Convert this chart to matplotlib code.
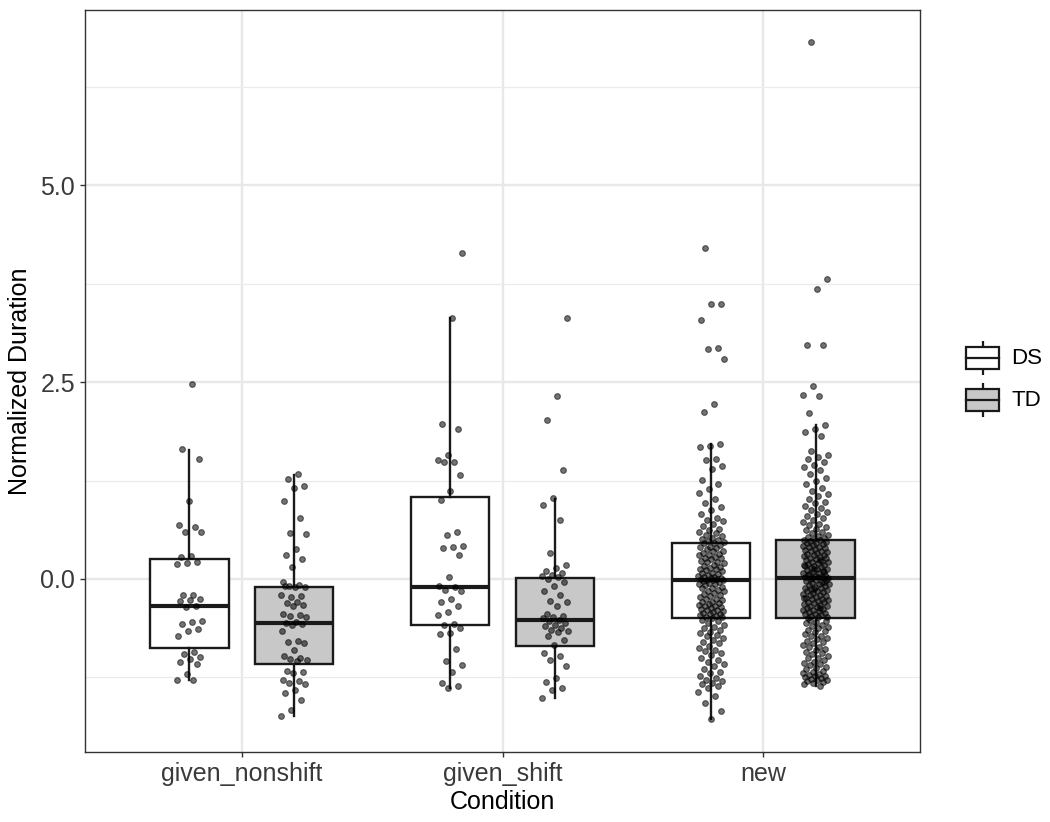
import numpy as np
import matplotlib
matplotlib.use("Agg")
import matplotlib.pyplot as plt
from matplotlib.patches import Rectangle
from matplotlib.ticker import FixedLocator

plt.rcParams['font.family'] = ['Liberation Sans', 'DejaVu Sans']

conditions = ["given_nonshift", "given_shift", "new"]
groups = ["DS", "TD"]
fills = {"DS": "#FFFFFF", "TD": "#C8C8C8"}

# box statistics: whisker low, Q1, median, Q3, whisker high
ds_whislo = [-1.28, -1.39, -1.78]
ds_q1 = [-0.88, -0.59, -0.50]
ds_med = [-0.35, -0.10, -0.02]
ds_q3 = [0.25, 1.04, 0.45]
ds_whishi = [1.64, 3.31, 1.71]

td_whislo = [-1.74, -1.51, -1.36]
td_q1 = [-1.08, -0.85, -0.50]
td_med = [-0.56, -0.52, 0.01]
td_q3 = [-0.10, 0.01, 0.49]
td_whishi = [1.32, 1.01, 1.95]

# individual observations (estimated from the jittered points)
ds_given_nonshift = [2.48, 1.65, 1.53, 0.99, 0.68, 0.66, 0.60, 0.59, 0.29, 0.28, 0.21, 0.20,
                     0.19, -0.20, -0.21, -0.25, -0.27, -0.28, -0.35, -0.36, -0.53, -0.55, -0.57,
                     -0.64, -0.66, -0.73, -0.93, -0.95, -0.99, -1.02, -1.05, -1.08, -1.21, -1.28, -1.29]
td_given_nonshift = [1.33, 1.27, 1.18, 1.15, 0.99, 0.78, 0.58, 0.57, 0.38, 0.31, 0.25, 0.15,
                     -0.04, -0.08, -0.09, -0.10, -0.10, -0.09, -0.22, -0.23, -0.21, -0.29, -0.31,
                     -0.33, -0.35, -0.45, -0.46, -0.47, -0.48, -0.55, -0.56, -0.57, -0.58, -0.66,
                     -0.79, -0.80, -0.82, -0.90, -0.98, -1.00, -1.02, -1.03, -1.04, -1.17, -1.18,
                     -1.19, -1.29, -1.30, -1.32, -1.33, -1.41, -1.45, -1.54, -1.67, -1.74]
ds_given_shift = [4.14, 3.32, 1.97, 1.91, 1.58, 1.51, 1.49, 1.48, 1.32, 1.12, 1.00, 0.60, 0.56,
                  0.42, 0.40, 0.39, 0.31, 0.03, -0.09, -0.10, -0.14, -0.15, -0.25, -0.30, -0.34,
                  -0.42, -0.46, -0.57, -0.58, -0.62, -0.69, -0.70, -0.89, -1.04, -1.10, -1.18,
                  -1.32, -1.36, -1.39]
td_given_shift = [3.32, 2.33, 2.02, 1.38, 1.03, 0.94, 0.75, 0.33, 0.18, 0.14, 0.10, 0.07, 0.05,
                  0.04, 0.02, 0.00, -0.04, -0.09, -0.16, -0.20, -0.28, -0.30, -0.35, -0.45, -0.47,
                  -0.48, -0.50, -0.52, -0.54, -0.56, -0.58, -0.60, -0.62, -0.65, -0.66, -0.68,
                  -0.73, -0.78, -0.84, -0.94, -0.98, -1.03, -1.11, -1.26, -1.31, -1.39, -1.41, -1.51]
ds_new = [4.21, 3.49, 3.49, 3.29, 2.94, 2.92, 2.79, 2.22, 2.12,
          1.71, 1.69, 1.67, 1.53, 1.51, 1.43, 1.40, 1.26, 1.21, 1.14, 1.09, 1.01, 0.96, 0.91,
          0.88, 0.82, 0.77, 0.75, 0.73, 0.70, 0.67, 0.64, 0.62, 0.60, 0.58, 0.56, 0.54, 0.52,
          0.51, 0.49, 0.48, 0.47, 0.46,
          0.45, 0.43, 0.41, 0.40, 0.39, 0.38, 0.36, 0.35, 0.33, 0.32, 0.31, 0.30, 0.28, 0.27,
          0.26, 0.25, 0.23, 0.22, 0.21, 0.20, 0.18, 0.17, 0.15, 0.14, 0.13, 0.12, 0.11, 0.10,
          0.08, 0.07, 0.06, 0.05, 0.04, 0.03, 0.02, 0.01, 0.01, 0.00, 0.00, -0.01, -0.01, -0.02,
          -0.03, -0.04, -0.05, -0.06, -0.07, -0.08, -0.10, -0.11, -0.12, -0.14, -0.15, -0.16,
          -0.18, -0.19, -0.20, -0.22, -0.23, -0.25, -0.26, -0.27, -0.29, -0.30, -0.31, -0.32,
          -0.33, -0.34, -0.35, -0.36, -0.37, -0.38, -0.39, -0.40, -0.41, -0.42, -0.43, -0.44,
          -0.45, -0.46, -0.47, -0.48, -0.49, -0.50,
          -0.52, -0.54, -0.56, -0.58, -0.61, -0.63, -0.65, -0.67, -0.69, -0.71, -0.73, -0.75,
          -0.78, -0.80, -0.82, -0.85, -0.88, -0.90, -0.92, -0.94, -0.97, -1.00, -1.03, -1.05,
          -1.08, -1.11, -1.14, -1.18, -1.20, -1.23, -1.26, -1.28, -1.30, -1.32, -1.34, -1.36,
          -1.39, -1.44, -1.49, -1.58, -1.68, -1.78]
td_new = [6.82, 3.81, 3.69, 2.97, 2.97, 2.45, 2.34, 2.32, 2.11,
          1.95, 1.90, 1.87, 1.81, 1.62, 1.58, 1.55, 1.52, 1.48, 1.45, 1.42, 1.38, 1.33, 1.28,
          1.24, 1.20, 1.15, 1.12, 1.08, 1.05, 1.02, 0.98, 0.96, 0.93, 0.90, 0.88, 0.85, 0.82,
          0.80, 0.77, 0.75, 0.72, 0.70, 0.68, 0.66, 0.64, 0.62, 0.60, 0.58, 0.56, 0.55, 0.53,
          0.52, 0.51, 0.50, 0.49,
          0.48, 0.47, 0.46, 0.45, 0.44, 0.43, 0.42, 0.41, 0.40, 0.39, 0.38, 0.37, 0.36, 0.35,
          0.34, 0.33, 0.32, 0.31, 0.30, 0.29, 0.28, 0.27, 0.26, 0.25, 0.24, 0.23, 0.22, 0.21,
          0.20, 0.19, 0.18, 0.17, 0.16, 0.15, 0.14, 0.13, 0.12, 0.11, 0.10, 0.09, 0.08, 0.07,
          0.06, 0.05, 0.04, 0.03, 0.02, 0.01, 0.015, 0.025, 0.055, 0.085, 0.125, 0.175, 0.235,
          0.00, -0.01, -0.02, -0.03, -0.04, -0.05, -0.06, -0.07, -0.08, -0.09, -0.10, -0.11,
          -0.12, -0.13, -0.14, -0.15, -0.16, -0.17, -0.18, -0.19, -0.20, -0.21, -0.22, -0.23,
          -0.24, -0.25, -0.26, -0.27, -0.28, -0.29, -0.30, -0.31, -0.32, -0.33, -0.34, -0.35,
          -0.36, -0.37, -0.38, -0.39, -0.40, -0.41, -0.42, -0.43, -0.44, -0.45, -0.46, -0.47,
          -0.48, -0.49, -0.50, -0.035, -0.125, -0.245, -0.365,
          -0.52, -0.53, -0.55, -0.56, -0.58, -0.60, -0.61, -0.63, -0.65, -0.66, -0.68, -0.70,
          -0.72, -0.73, -0.75, -0.77, -0.79, -0.80, -0.82, -0.84, -0.86, -0.87, -0.89, -0.91,
          -0.93, -0.94, -0.96, -0.98, -1.00, -1.01, -1.03, -1.05, -1.07, -1.08, -1.10, -1.12,
          -1.13, -1.15, -1.17, -1.18, -1.20, -1.21, -1.22, -1.23, -1.24, -1.25, -1.26, -1.27,
          -1.28, -1.29, -1.30, -1.31, -1.32, -1.34, -1.36]

points = {
    "DS": [ds_given_nonshift, ds_given_shift, ds_new],
    "TD": [td_given_nonshift, td_given_shift, td_new],
}
stats_src = {
    "DS": (ds_whislo, ds_q1, ds_med, ds_q3, ds_whishi),
    "TD": (td_whislo, td_q1, td_med, td_q3, td_whishi),
}

W, H = 1050, 822
fig = plt.figure(figsize=(W / 100, H / 100), dpi=100)
ax = fig.add_axes([85 / W, 1 - 752 / H, 835 / W, 742 / H])

dodge = 0.2
box_w = 0.30
jit = 0.05
line_col = "#1A1A1A"

ax.set_xlim(0.4, 3.6)
ax.set_ylim(-2.20, 7.23)

# grid
ax.set_axisbelow(True)
ax.yaxis.set_major_locator(FixedLocator([0.0, 2.5, 5.0]))
ax.yaxis.set_minor_locator(FixedLocator([-1.25, 1.25, 3.75, 6.25]))
ax.set_xticks([1, 2, 3])
ax.set_xticklabels(conditions)
ax.set_yticklabels(["0.0", "2.5", "5.0"])
ax.grid(which="major", color="#E8E8E8", linewidth=1.7)
ax.grid(which="minor", axis="y", color="#EBEBEB", linewidth=0.9)

for gi, g in enumerate(groups):
    off = -dodge if g == "DS" else dodge
    lo, q1, med, q3, hi = stats_src[g]
    stats = []
    for ci in range(len(conditions)):
        stats.append(dict(whislo=lo[ci], q1=q1[ci], med=med[ci], q3=q3[ci], whishi=hi[ci], fliers=[]))
    pos = [ci + 1 + off for ci in range(len(conditions))]
    ax.bxp(stats, positions=pos, widths=box_w, showfliers=False, showcaps=False,
           patch_artist=True, manage_ticks=False,
           boxprops=dict(facecolor=fills[g], edgecolor=line_col, linewidth=1.7),
           medianprops=dict(color=line_col, linewidth=3.0, solid_capstyle="butt"),
           whiskerprops=dict(color=line_col, linewidth=1.7))
    for ci in range(len(conditions)):
        vals = np.asarray(points[g][ci], dtype=float)
        n = len(vals)
        k = np.arange(n) + 1 + 7 * ci + 13 * gi
        offs = ((k * 0.6180339887) % 1.0 - 0.5) * 2 * jit
        ax.scatter(ci + 1 + off + offs, vals, s=17, facecolor="black", edgecolor="black",
                   linewidths=0.8, alpha=0.55, zorder=4)

for sp in ax.spines.values():
    sp.set_color("#333333")
    sp.set_linewidth(1.0)
ax.tick_params(axis="both", which="major", length=3.5, width=1.0, color="#333333",
               labelsize=18, labelcolor="#3A3A3A", pad=3.5)
ax.tick_params(axis="y", which="minor", length=0)
ax.set_xlabel("Condition", fontsize=18, color="black", labelpad=3)
ax.set_ylabel("Normalized Duration", fontsize=18, color="black", labelpad=6)

# legend (manual, in pixel coordinates)
lax = fig.add_axes([950 / W, 1 - 425 / H, 100 / W, 95 / H])
lax.set_xlim(950, 1050)
lax.set_ylim(425, 330)
lax.axis("off")
for g, cy in (("DS", 358), ("TD", 400.5)):
    x0, x1 = 966, 999
    xc = (x0 + x1) / 2
    lax.plot([xc, xc], [cy - 17, cy - 11], color=line_col, lw=1.6, solid_capstyle="butt")
    lax.plot([xc, xc], [cy + 11, cy + 17], color=line_col, lw=1.6, solid_capstyle="butt")
    lax.add_patch(Rectangle((x0, cy - 11), x1 - x0, 22, facecolor=fills[g], edgecolor=line_col, lw=1.6))
    lax.plot([x0, x1], [cy, cy], color=line_col, lw=1.6)
    lax.text(1011, cy, g, fontsize=16, va="center", ha="left", color="black")

fig.savefig("out.png", dpi=100)
